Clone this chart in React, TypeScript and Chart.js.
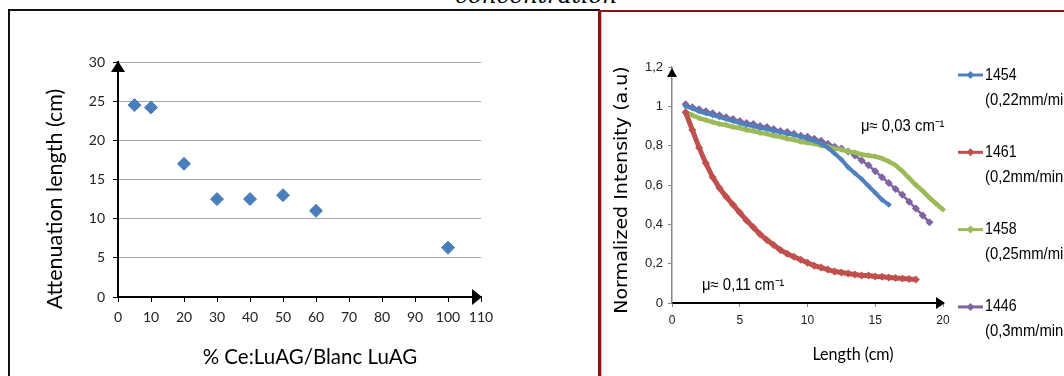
import React, { useEffect, useRef } from 'react';
import { Chart, registerables } from 'chart.js';

Chart.register(...registerables);

// ---------- Left chart data ----------
const concentrationPct = [5, 10, 20, 30, 40, 50, 60, 100];
const attenuationCm = [24.5, 24.2, 17, 12.5, 12.5, 13, 11, 6.3];
const leftXTicks = [0, 10, 20, 30, 40, 50, 60, 70, 80, 90, 100, 110];
const leftYTicks = [0, 5, 10, 15, 20, 25, 30];

// ---------- Right chart data ----------
const lengthCm = [1, 1.5, 2, 2.5, 3, 3.5, 4, 4.5, 5, 5.5, 6, 6.5, 7, 7.5, 8, 8.5, 9, 9.5, 10, 10.5, 11, 11.5, 12, 12.5, 13, 13.5, 14, 14.5, 15, 15.5, 16, 16.5, 17, 17.5, 18, 18.5, 19, 19.5, 20];
const s1454 = [1.0, 0.99, 0.975, 0.965, 0.955, 0.945, 0.935, 0.925, 0.915, 0.905, 0.9, 0.89, 0.885, 0.875, 0.87, 0.86, 0.855, 0.845, 0.835, 0.825, 0.81, 0.79, 0.76, 0.73, 0.69, 0.66, 0.63, 0.595, 0.56, 0.525, 0.5];
const s1461 = [0.97, 0.88, 0.79, 0.71, 0.64, 0.585, 0.54, 0.5, 0.46, 0.42, 0.385, 0.35, 0.32, 0.295, 0.27, 0.25, 0.235, 0.22, 0.205, 0.19, 0.18, 0.17, 0.16, 0.155, 0.15, 0.145, 0.14, 0.14, 0.135, 0.133, 0.13, 0.127, 0.125, 0.122, 0.12];
const s1458 = [0.97, 0.955, 0.94, 0.93, 0.92, 0.91, 0.905, 0.895, 0.89, 0.88, 0.875, 0.865, 0.86, 0.85, 0.845, 0.835, 0.83, 0.82, 0.815, 0.81, 0.8, 0.795, 0.785, 0.78, 0.77, 0.765, 0.755, 0.75, 0.745, 0.735, 0.72, 0.7, 0.67, 0.635, 0.6, 0.57, 0.535, 0.505, 0.475];
const s1446 = [1.01, 0.995, 0.985, 0.975, 0.965, 0.955, 0.945, 0.935, 0.925, 0.915, 0.91, 0.9, 0.895, 0.885, 0.875, 0.87, 0.86, 0.85, 0.845, 0.835, 0.825, 0.81, 0.795, 0.785, 0.77, 0.75, 0.725, 0.7, 0.67, 0.64, 0.61, 0.58, 0.55, 0.515, 0.48, 0.445, 0.41];
const seriesNames = ['1454', '1461', '1458', '1446'];
const seriesRates = ['(0,22mm/min)', '(0,2mm/min)', '(0,25mm/min)', '(0,3mm/min)'];
const seriesColors = ['#4F81BD', '#C0504D', '#9BBB59', '#8064A2'];
const rightXTicks = [0, 5, 10, 15, 20];
const rightYTicks = [0, 0.2, 0.4, 0.6, 0.8, 1, 1.2];

const WIDE = "Lato, 'Open Sans', sans-serif";
const VERD = "'DejaVu Sans', Verdana, sans-serif";
const NARROW = "'Liberation Sans', Arial, sans-serif";

function text(ctx: CanvasRenderingContext2D, s: string, x: number, y: number, font: string, color: string, align: CanvasTextAlign = 'center', rot = 0, sx = 1) {
  ctx.save();
  ctx.translate(x, y);
  if (rot) ctx.rotate(rot);
  if (sx !== 1) ctx.scale(sx, 1);
  ctx.font = font;
  ctx.fillStyle = color;
  ctx.textAlign = align;
  ctx.textBaseline = 'middle';
  ctx.fillText(s, 0, 0);
  ctx.restore();
}

function tri(ctx: CanvasRenderingContext2D, pts: number[][], color: string) {
  ctx.save();
  ctx.beginPath();
  ctx.moveTo(pts[0][0], pts[0][1]);
  ctx.lineTo(pts[1][0], pts[1][1]);
  ctx.lineTo(pts[2][0], pts[2][1]);
  ctx.closePath();
  ctx.fillStyle = color;
  ctx.fill();
  ctx.restore();
}

function LeftChart() {
  const ref = useRef<HTMLCanvasElement>(null);
  useEffect(() => {
    const deco = {
      id: 'leftDeco',
      afterDraw(chart: any) {
        const ctx = chart.ctx as CanvasRenderingContext2D;
        const ca = chart.chartArea;
        tri(ctx, [[ca.left, ca.top - 1], [ca.left - 7, ca.top + 10], [ca.left + 7, ca.top + 10]], '#000');
        tri(ctx, [[ca.right + 1, ca.bottom], [ca.right - 9, ca.bottom - 8], [ca.right - 9, ca.bottom + 8]], '#000');
        text(ctx, 'Attenuation length (cm)', 45, 187, `21.5px ${WIDE}`, '#000', 'center', -Math.PI / 2);
        text(ctx, '% Ce:LuAG/Blanc LuAG', 300, 345, `20.5px ${WIDE}`, '#000', 'center');
      },
    };
    const chart = new Chart(ref.current!, {
      type: 'scatter',
      data: {
        datasets: [{
          label: 'Attenuation length',
          data: concentrationPct.map((x, i) => ({ x, y: attenuationCm[i] })),
          pointStyle: 'rectRot',
          pointRadius: 6.5,
          pointBackgroundColor: '#4A7EBB',
          pointBorderColor: '#4A7EBB',
          pointBorderWidth: 1,
        }],
      },
      options: {
        responsive: false,
        animation: false,
        events: [],
        layout: { padding: { left: 0, right: 115, top: 50, bottom: 30 } },
        plugins: { legend: { display: false }, tooltip: { enabled: false } },
        scales: {
          x: {
            type: 'linear', min: 0, max: 110,
            afterBuildTicks: (s: any) => { s.ticks = leftXTicks.map((v) => ({ value: v })); },
            afterFit: (s: any) => { s.height = 49; },
            grid: { drawOnChartArea: false, drawTicks: true, tickLength: 5, tickColor: '#000' },
            border: { display: true, color: '#000', width: 2 },
            ticks: { font: { family: WIDE, size: 14 }, color: '#222', padding: 7, maxRotation: 0 },
          },
          y: {
            type: 'linear', min: 0, max: 30,
            afterBuildTicks: (s: any) => { s.ticks = leftYTicks.map((v) => ({ value: v })); },
            afterFit: (s: any) => { s.width = 108; },
            grid: { color: '#A6A6A6', lineWidth: 1, drawTicks: true, tickLength: 5, tickColor: '#000' },
            border: { display: true, color: '#000', width: 2 },
            ticks: { font: { family: WIDE, size: 14 }, color: '#222', padding: 8 },
          },
        },
      },
      plugins: [deco],
    });
    return () => chart.destroy();
  }, []);
  return <canvas ref={ref} width={586} height={364} style={{ position: 'absolute', left: 10, top: 12, width: 586, height: 364 }} />;
}

function RightChart() {
  const ref = useRef<HTMLCanvasElement>(null);
  useEffect(() => {
    const seriesValues = [s1454, s1461, s1458, s1446];
    const radii = [3, 4, 3, 4];
    const widths = [4, 5, 4.5, 2.5];
    const deco = {
      id: 'rightDeco',
      afterDraw(chart: any) {
        const ctx = chart.ctx as CanvasRenderingContext2D;
        const ca = chart.chartArea;
        tri(ctx, [[ca.left, ca.top + 1], [ca.left - 5, ca.top + 10], [ca.left + 5, ca.top + 10]], '#000');
        tri(ctx, [[ca.right + 2, ca.bottom], [ca.right - 7, ca.bottom - 6], [ca.right - 7, ca.bottom + 6]], '#000');
        text(ctx, 'Normalized Intensity (a.u)', 21, 178, `17px ${VERD}`, '#000', 'center', -Math.PI / 2, 1.12);
        text(ctx, 'Length (cm)', 251, 342, `17.5px ${WIDE}`, '#000', 'center', 0, 0.92);
        text(ctx, 'μ≈ 0,03 cm⁻¹', 259, 115, `16px ${NARROW}`, '#000', 'left', 0, 0.93);
        text(ctx, 'μ≈ 0,11 cm⁻¹', 100, 274, `16px ${NARROW}`, '#000', 'left', 0, 0.93);
        chart.data.datasets.forEach((ds: any, i: number) => {
          const y = 63 + i * 77.3;
          ctx.save();
          ctx.strokeStyle = ds.borderColor;
          ctx.lineWidth = 3;
          ctx.beginPath();
          ctx.moveTo(356, y);
          ctx.lineTo(381, y);
          ctx.stroke();
          ctx.beginPath();
          ctx.moveTo(368.5 - 4, y);
          ctx.lineTo(368.5, y - 4);
          ctx.lineTo(368.5 + 4, y);
          ctx.lineTo(368.5, y + 4);
          ctx.closePath();
          ctx.fillStyle = ds.borderColor;
          ctx.fill();
          ctx.restore();
          text(ctx, seriesNames[i], 383, y, `16.5px ${NARROW}`, '#000', 'left', 0, 0.86);
          text(ctx, seriesRates[i], 383, y + 25, `16.5px ${NARROW}`, '#000', 'left', 0, 0.9);
        });
      },
    };
    const chart = new Chart(ref.current!, {
      type: 'scatter',
      data: {
        datasets: seriesValues.map((vals, i) => ({
          label: seriesNames[i],
          data: vals.map((y, j) => ({ x: lengthCm[j], y })),
          showLine: true,
          borderColor: seriesColors[i],
          backgroundColor: seriesColors[i],
          borderWidth: widths[i],
          pointStyle: 'rectRot',
          pointRadius: radii[i],
          pointBorderWidth: 0,
          pointBackgroundColor: seriesColors[i],
          clip: 12,
        })),
      },
      options: {
        responsive: false,
        animation: false,
        events: [],
        layout: { padding: { left: 30, right: 121, top: 55, bottom: 43 } },
        plugins: { legend: { display: false }, tooltip: { enabled: false } },
        scales: {
          x: {
            type: 'linear', min: 0, max: 20,
            afterBuildTicks: (s: any) => { s.ticks = rightXTicks.map((v) => ({ value: v })); },
            afterFit: (s: any) => { s.height = 30; },
            grid: { drawOnChartArea: false, drawTicks: true, tickLength: 4, tickColor: '#868686' },
            border: { display: true, color: '#000', width: 2 },
            ticks: { font: { family: NARROW, size: 12 }, color: '#222', padding: 6, maxRotation: 0 },
          },
          y: {
            type: 'linear', min: 0, max: 1.2,
            afterBuildTicks: (s: any) => { s.ticks = rightYTicks.map((v) => ({ value: v })); },
            afterFit: (s: any) => { s.width = 40; },
            grid: { drawOnChartArea: false, drawTicks: true, tickLength: 4, tickColor: '#868686' },
            border: { display: true, color: '#868686', width: 1.5 },
            ticks: {
              font: { family: NARROW, size: 13 }, color: '#222', padding: 5,
              callback: (v: any) => String(Math.round(Number(v) * 10) / 10).replace('.', ','),
            },
          },
        },
      },
      plugins: [deco],
    });
    return () => chart.destroy();
  }, []);
  return <canvas ref={ref} width={462} height={364} style={{ position: 'absolute', left: 602, top: 12, width: 462, height: 364 }} />;
}

export default function App() {
  return (
    <div style={{ position: 'absolute', left: 0, top: 0, width: 1064, height: 376, overflow: 'hidden', background: '#fff' }}>
      <div style={{ position: 'absolute', left: 455, top: -17, whiteSpace: 'nowrap', fontFamily: "'DejaVu Serif', serif", fontStyle: 'italic', fontSize: 23, lineHeight: '24px', color: '#000' }}>
        concentration
      </div>
      <div style={{ position: 'absolute', left: 8, top: 9, width: 592, height: 400, boxSizing: 'border-box', borderLeft: '2px solid #111', borderTop: '2px solid #111' }} />
      <div style={{ position: 'absolute', left: 598, top: 10, width: 500, height: 400, boxSizing: 'border-box', borderLeft: '3px solid #8B1414', borderTop: '2px solid #8B1414' }} />
      <div style={{ position: 'absolute', left: 601, top: 12, width: 1, height: 400, background: '#B8C2CC' }} />
      <LeftChart />
      <RightChart />
    </div>
  );
}
